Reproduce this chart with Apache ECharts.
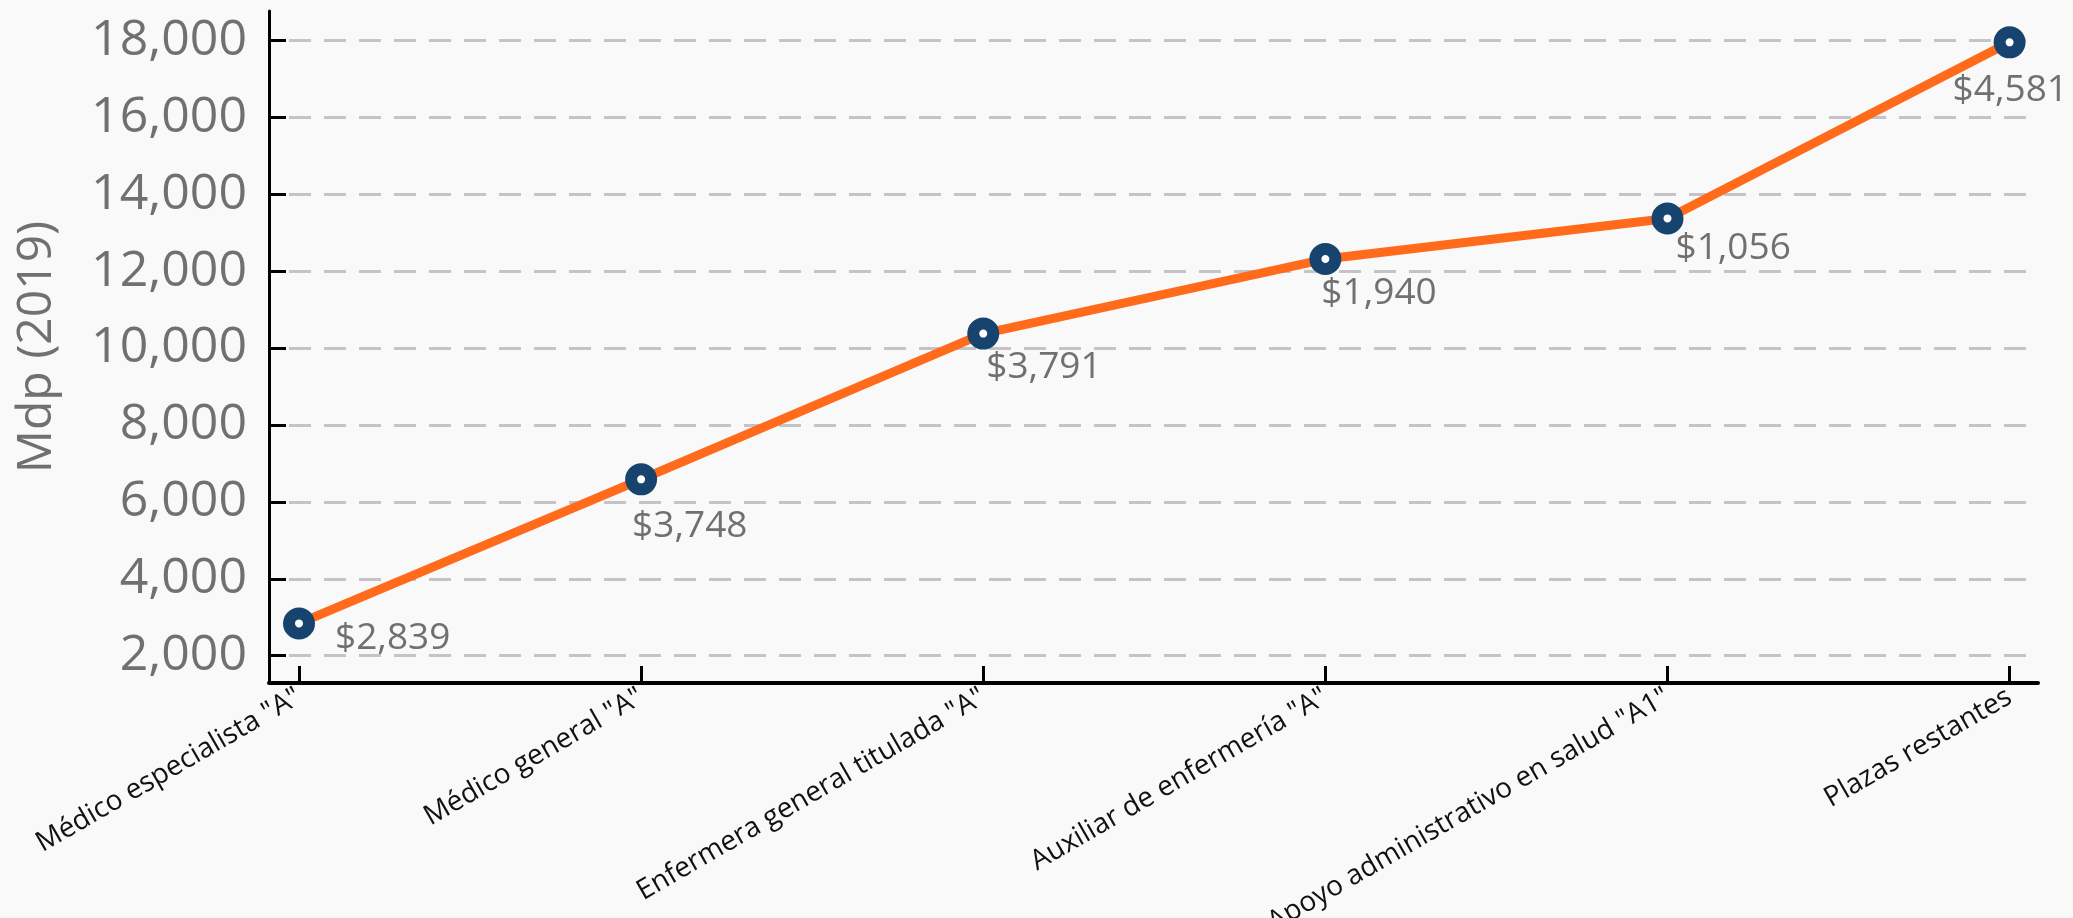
<!DOCTYPE html>
<html>
<head>
<meta charset="utf-8">
<script src="https://cdn.jsdelivr.net/npm/echarts@6/dist/echarts.min.js"></script>
<style>
  html, body { margin: 0; padding: 0; background: #f9f9f9; }
  #chart { width: 2073px; height: 918px; }
</style>
</head>
<body>
<div id="chart"></div>
<script>
// data
var categories = ['Médico especialista "A"', 'Médico general "A"', 'Enfermera general titulada "A"',
                  'Auxiliar de enfermería "A"', 'Apoyo administrativo en salud "A1"', 'Plazas restantes'];
var increments = [2839, 3748, 3791, 1940, 1056, 4581];     // label text
var totals = [2839, 6587, 10378, 12318, 13374, 17955];      // plotted (accumulated) value
var yTicks = [2000, 4000, 6000, 8000, 10000, 12000, 14000, 16000, 18000];
var xTicks = [0, 1, 2, 3, 4, 5];

// label placement, px from the marker centre
var labelOffsets = [[36, 15], [-9, 47], [3, 34], [-4, 34], [8, 30], [-57, 48]];

var font = 'Open Sans';
var grey = '#707070';

var chart = echarts.init(document.getElementById('chart'));

var points = totals.map(function (v, i) {
    return {
        value: [xTicks[i], v],
        label: { offset: labelOffsets[i] }
    };
});

chart.setOption({
    animation: false,
    backgroundColor: '#f9f9f9',
    grid: {
        left: 269, right: 35, top: 11, bottom: 235,
        containLabel: false,
        outerBoundsMode: 'none'
    },
    xAxis: {
        type: 'value',
        min: -0.0877,
        max: 5.083,
        axisLine: { onZero: false, lineStyle: { color: '#000', width: 4 } },
        axisTick: { inside: true, length: 17, lineStyle: { color: '#000', width: 3 }, customValues: xTicks },
        axisLabel: {
            customValues: xTicks,
            rotate: 30,
            margin: 12,
            fontSize: 28,
            fontFamily: font,
            color: '#111',
            formatter: function (v) { return categories[v]; }
        },
        splitLine: { show: false }
    },
    yAxis: {
        type: 'value',
        min: 1290,
        max: 18770,
        splitNumber: 9,
        minInterval: 2000,
        maxInterval: 2000,
        name: 'Mdp (2019)',
        nameLocation: 'middle',
        nameGap: 208,
        nameTextStyle: { fontSize: 48, fontFamily: font, color: grey },
        axisLine: { show: true, onZero: false, lineStyle: { color: '#000', width: 3 } },
        axisTick: { show: true, inside: true, length: 17, lineStyle: { color: '#000', width: 3 }, customValues: yTicks },
        axisLabel: {
            customValues: yTicks,
            margin: 22,
            fontSize: 50,
            fontFamily: font,
            color: grey,
            formatter: function (v) { return v.toLocaleString('en-US'); }
        },
        splitLine: {
            show: true,
            showMinLine: true,
            showMaxLine: true,
            lineStyle: { color: '#c4c4c8', width: 3, type: [22, 13], dashOffset: -20 }
        }
    },
    series: [{
        type: 'line',
        data: points,
        symbol: 'circle',
        symbolSize: 20,
        lineStyle: { color: '#ff6b1a', width: 9 },
        itemStyle: { color: '#ffffff', borderColor: '#17446e', borderWidth: 12 },
        label: {
            show: true,
            position: 'inside',
            align: 'left',
            verticalAlign: 'middle',
            fontSize: 37,
            fontFamily: font,
            color: grey,
            formatter: function (p) {
                return '$' + increments[p.dataIndex].toLocaleString('en-US');
            }
        }
    }]
});
</script>
</body>
</html>
